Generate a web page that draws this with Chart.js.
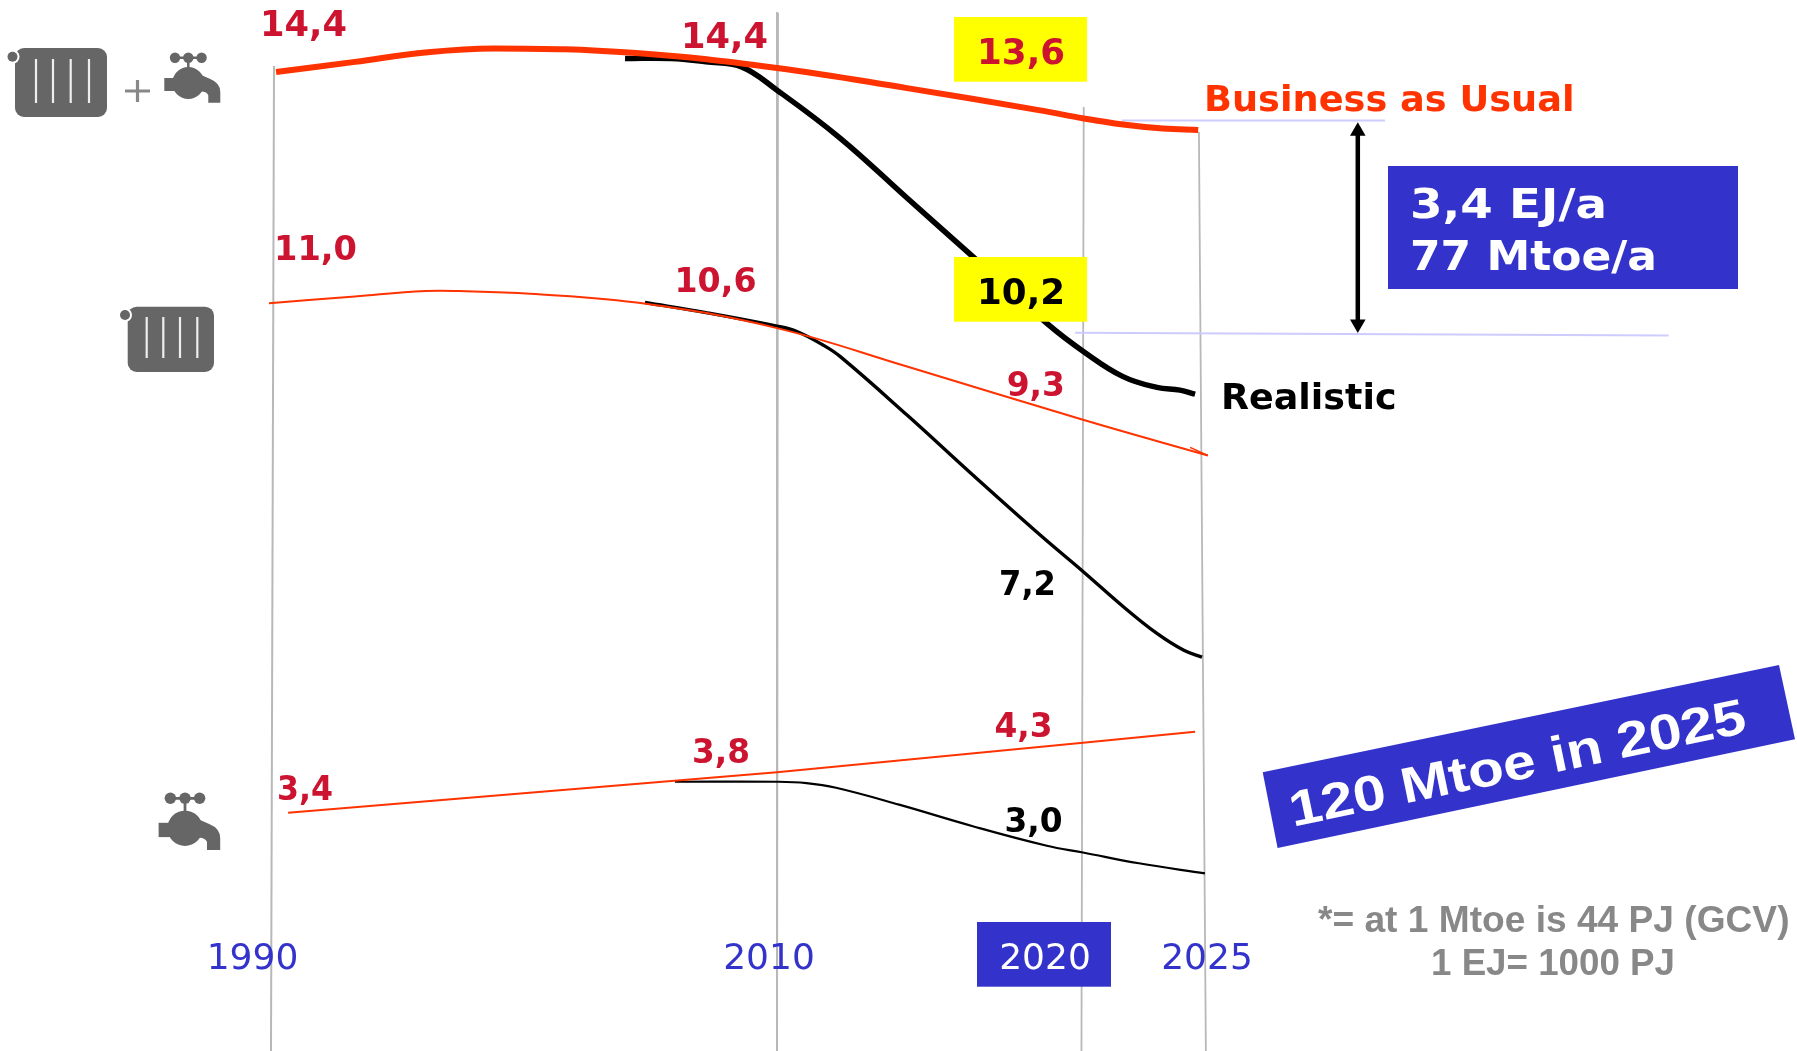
<!DOCTYPE html>
<html>
<head>
<meta charset="utf-8">
<title>Energy demand for heating and hot water</title>
<style>
html,body{margin:0;padding:0;background:#fff;width:1797px;height:1051px;overflow:hidden}
canvas{display:block}
</style>
<script src="https://cdn.jsdelivr.net/npm/chart.js@4/dist/chart.umd.min.js"></script>
</head>
<body>
<canvas id="c" width="1797" height="1051"></canvas>
<script>
// ---------- data (EJ/a) ----------
const yearTicks = [1990, 2010, 2020, 2025];

const bauYears = [1990.12,1993.25,1996.03,1998.8,2004.4,2010,2014.25,2018.6,2020.03,2021.67,2023.33,2024.8];
const bauValues = [14.40,14.55,14.69,14.75,14.68,14.46,14.16,13.83,13.71,13.62,13.56,13.54];

const realisticYears = [2003.97,2005.8,2007.18,2008.57,2010,2012.06,2014.25,2016.4,2018.82,2020.03,2021.67,2023.08,2024.04,2024.67];
const realisticValues = [14.60,14.60,14.55,14.48,14.13,13.42,12.53,11.66,10.67,10.25,9.88,9.72,9.68,9.62];

const heatBauYears = [1989.84,1993.25,1996.03,1997.4,2000.2,2004.8,2010,2014.25,2020,2025.2];
const heatBauValues = [10.97,11.07,11.15,11.15,11.11,10.96,10.60,10.03,9.24,8.71];

const heatRealYears = [2004.76,2007.18,2010,2010.65,2011.5,2012.06,2014.25,2016.4,2018.6,2020,2021.67,2023.08,2024.2,2024.96];
const heatRealValues = [10.98,10.83,10.63,10.55,10.35,10.18,9.31,8.42,7.53,6.99,6.47,6.07,5.82,5.72];

const waterBauYears = [1990.6,2010,2020,2024.67];
const waterBauValues = [3.41,4.01,4.45,4.61];

const waterRealYears = [2005.95,2010,2010.96,2011.93,2013.99,2016.4,2018.82,2020,2022.33,2025.08];
const waterRealValues = [3.87,3.87,3.85,3.78,3.53,3.21,2.92,2.82,2.66,2.51];

const barbYears = [2024.46,2025.2];
const barbValues = [8.83,8.71];

// reference marks
const grid1990Years = [1990.04,1989.92], grid1990Values = [14.49,-0.125];
const grid2010Years = [2010.03,2010.0],  grid2010Values = [15.28,-0.125];
const grid2020Years = [2020.03,2019.95], grid2020Values = [13.88,-0.125];
const grid2025Years = [2024.83,2025.12], grid2025Values = [13.51,-0.125];
const refBauYears = [2021.62,2032.58], refBauValues = [13.68,13.68];
const refRealYears = [2019.74,2044.4], refRealValues = [10.53,10.49];
const gapYears = [2031.45,2031.45], gapValues = [13.52,10.66];

// ---------- texts ----------
const redLabels = ["14,4","14,4","13,6","11,0","10,6","9,3","3,4","3,8","4,3"];
const blackLabels = ["10,2","7,2","3,0"];
const seriesNames = ["Business as Usual","Realistic"];
const savingLines = ["3,4 EJ/a","77 Mtoe/a"];
const totalNote = "120 Mtoe in 2025";
const footnotes = ["*= at 1 Mtoe is 44 PJ (GCV)","1 EJ= 1000 PJ"];

// ---------- drawing constants ----------
const BLUE="#3333cc", RED="#ff3300", LABEL_RED="#cc1430", GREY="#666666", GRID="#b8b8b8", REF="#ccccff", YEL="#ffff00";
const BOLD='bold 35px "DejaVu Sans"';
const ARIAL='bold 36px "Liberation Sans"';
const tickNudge = {1990:-20.5, 2010:-8, 2020:-38, 2025:4};
// fraction of the plot width reached at each year
const xKnots = [[1979.167,0],[1990,0.15192],[2010,0.43239],[2020,0.60267],[2025,0.66945],[2049.75,1]];

const zip=(xs,ys)=>xs.map((x,i)=>({x,y:ys[i]}));

// The time axis of the original is not uniform: each interval has its own length.
class IntervalYearScale extends Chart.LinearScale {
  static id='intervalYear';
  static defaults=Chart.LinearScale.defaults;
  getPixelForValue(v){
    let i=0; while(i<xKnots.length-2 && v>xKnots[i+1][0]) i++;
    const a=xKnots[i], b=xKnots[i+1];
    return this.getPixelForDecimal(a[1]+(v-a[0])/(b[0]-a[0])*(b[1]-a[1]));
  }
  getValueForPixel(p){
    const d=this.getDecimalForPixel(p);
    let i=0; while(i<xKnots.length-2 && d>xKnots[i+1][1]) i++;
    const a=xKnots[i], b=xKnots[i+1];
    return a[0]+(d-a[1])/(b[1]-a[1])*(b[0]-a[0]);
  }
  _computeLabelItems(area){
    const items=super._computeLabelItems(area);
    items.forEach((it,i)=>{ it.options.translation[0]+=tickNudge[this.ticks[i].value]||0; });
    return items;
  }
}
Chart.register(IntervalYearScale);

function fitText(ctx,text,x0,x1,base,font,color){
  ctx.save();
  ctx.font=font; ctx.fillStyle=color; ctx.textAlign='left'; ctx.textBaseline='alphabetic';
  const w=ctx.measureText(text).width;
  ctx.translate(x0,base); ctx.scale((x1-x0)/w,1);
  ctx.fillText(text,0,0);
  ctx.restore();
}
function rr(ctx,x0,y0,x1,y1,r){ctx.beginPath();ctx.roundRect(x0,y0,x1-x0,y1-y0,r);ctx.fill();}
function radiator(ctx,x0,y0,x1,y1,knobX,knobY,slats,sy0,sy1){
  ctx.fillStyle=GREY; rr(ctx,x0,y0,x1,y1,9);
  ctx.fillStyle="#fff"; ctx.beginPath();ctx.arc(knobX,knobY,7,0,7);ctx.fill();
  ctx.fillStyle=GREY; ctx.beginPath();ctx.arc(knobX,knobY,5,0,7);ctx.fill();
  ctx.strokeStyle="#eeeeee"; ctx.lineWidth=2.2;
  slats.forEach(x=>{ctx.beginPath();ctx.moveTo(x,sy0);ctx.lineTo(x,sy1);ctx.stroke();});
}
function faucet(ctx,cx,cy,s,handleY){
  ctx.save();ctx.translate(cx,cy);ctx.scale(s,s);
  ctx.fillStyle=GREY;ctx.strokeStyle=GREY;
  [-13.3,0,13.3].forEach(dx=>{ctx.beginPath();ctx.arc(dx,handleY,5.2,0,7);ctx.fill();});
  ctx.lineWidth=2.5;
  ctx.beginPath();ctx.moveTo(-13,handleY);ctx.lineTo(13,handleY);ctx.moveTo(0,handleY);ctx.lineTo(0,-12);ctx.stroke();
  ctx.beginPath();ctx.arc(0,0,16,0,7);ctx.fill();
  ctx.fillRect(-24,-5,24,13);
  ctx.beginPath();ctx.moveTo(6,-11);ctx.lineTo(22,-4);ctx.quadraticCurveTo(32,0,32,9);ctx.lineTo(32,19.7);
  ctx.lineTo(20,19.7);ctx.lineTo(20,12.5);ctx.quadraticCurveTo(19,9,14,8.5);ctx.lineTo(6,8);ctx.closePath();ctx.fill();
  ctx.restore();
}

const annotations={
  id:'annotations',
  afterDatasetsDraw(chart){
    const c=chart.ctx;
    c.save();
    // icons
    radiator(c,15,48,107,117,12.5,56.7,[36,53,70.7,89],59,103);
    c.strokeStyle="#888888";c.lineWidth=3.2;
    c.beginPath();c.moveTo(125,91);c.lineTo(150,91);c.moveTo(137.5,80);c.lineTo(137.5,102);c.stroke();
    faucet(c,188.3,83,1,-25.3);
    radiator(c,127.7,306.7,214,372,125,315,[146.7,163.3,180,197.3],317,358);
    faucet(c,185,828.3,1.1,-27.3);
    // boxes
    c.fillStyle=YEL;
    c.fillRect(954,17,133,64.7);
    c.fillRect(954,257,133,64.7);
    c.fillStyle=BLUE;
    c.fillRect(1388,166,350,123);
    c.fillRect(977,922,134,64.7);
    c.beginPath();c.moveTo(1262.7,772.3);c.lineTo(1779,665);c.lineTo(1795,739.3);c.lineTo(1277.6,848);c.closePath();c.fill();
    // value labels
    const big='bold 36px "DejaVu Sans"', mid='bold 33px "DejaVu Sans"';
    fitText(c,redLabels[0],260,347,36,big,LABEL_RED);
    fitText(c,redLabels[1],681,768,48,big,LABEL_RED);
    fitText(c,redLabels[2],977,1065,63.5,big,LABEL_RED);
    fitText(c,redLabels[3],274,357,260,mid,LABEL_RED);
    fitText(c,redLabels[4],674.5,756.5,291.7,mid,LABEL_RED);
    fitText(c,redLabels[5],1006.7,1065,396,mid,LABEL_RED);
    fitText(c,redLabels[6],277,333,800,mid,LABEL_RED);
    fitText(c,redLabels[7],692,750,763,mid,LABEL_RED);
    fitText(c,redLabels[8],994.4,1052.5,737,mid,LABEL_RED);
    fitText(c,blackLabels[0],977,1065,304,big,"#000");
    fitText(c,blackLabels[1],999,1056,595,mid,"#000");
    fitText(c,blackLabels[2],1004.4,1062.5,831.7,mid,"#000");
    // series names
    fitText(c,seriesNames[0],1204,1574.5,110.7,BOLD,RED);
    fitText(c,seriesNames[1],1221,1396.5,409,BOLD,"#000");
    // saving box
    fitText(c,savingLines[0],1410,1607,217.7,'bold 41px "DejaVu Sans"',"#fff");
    fitText(c,savingLines[1],1410,1657,270,'bold 41px "DejaVu Sans"',"#fff");
    // rotated total
    c.save();
    c.translate(1293,826.7);c.rotate(-11.74*Math.PI/180);
    fitText(c,totalNote,0,465,0,'bold 50px "Liberation Sans"',"#fff");
    c.restore();
    // footnotes
    fitText(c,footnotes[0],1318,1789.5,931.7,ARIAL,"#888888");
    fitText(c,footnotes[1],1431,1675,975,ARIAL,"#888888");
    c.restore();
  }
};

const line=(label,xs,ys,color,width,extra={})=>Object.assign({
  label,data:zip(xs,ys),borderColor:color,borderWidth:width,pointRadius:0,fill:false,clip:false,
  tension:0.4,borderCapStyle:'butt',borderJoinStyle:'round'
},extra);
const straight={tension:0};

new Chart(document.getElementById('c'),{
  type:'line',
  data:{datasets:[
    line('Business as Usual: heating + hot water',bauYears,bauValues,RED,6),
    line('Realistic: heating + hot water',realisticYears,realisticValues,"#000",5.5),
    line('Business as Usual: heating',heatBauYears,heatBauValues,RED,2),
    line('Business as Usual: heating, arrow',barbYears,barbValues,RED,1.5,straight),
    line('Realistic: heating',heatRealYears,heatRealValues,"#000",3.4),
    line('Business as Usual: hot water',waterBauYears,waterBauValues,RED,2,straight),
    line('Realistic: hot water',waterRealYears,waterRealValues,"#000",2.2),
    line('Gap',gapYears,gapValues,"#000",4.5,{tension:0,pointRadius:9,pointStyle:'triangle',pointRotation:[0,180],pointBackgroundColor:"#000",pointBorderWidth:0}),
    line('Reference BAU',refBauYears,refBauValues,REF,2,straight),
    line('Reference Realistic',refRealYears,refRealValues,REF,2,straight),
    line('1990',grid1990Years,grid1990Values,GRID,2,straight),
    line('2010',grid2010Years,grid2010Values,GRID,2,straight),
    line('2020',grid2020Years,grid2020Values,GRID,1.8,straight),
    line('2025',grid2025Years,grid2025Values,GRID,1.8,straight)
  ]},
  options:{
    responsive:false,animation:false,events:[],
    layout:{padding:0,autoPadding:false},
    plugins:{legend:{display:false},tooltip:{enabled:false},title:{display:false}},
    scales:{
      x:{
        type:'intervalYear',min:1979.167,max:2049.75,
        position:{y:1.67},
        grid:{display:false},border:{display:false},
        afterBuildTicks:a=>{a.ticks=yearTicks.map(value=>({value}));},
        ticks:{
          z:1,padding:0,autoSkip:false,maxRotation:0,minRotation:0,
          font:{family:'"DejaVu Sans"',size:36},
          color:ctx=>ctx.tick&&ctx.tick.value===2020?"#fff":BLUE,
          callback:v=>String(v)
        }
      },
      y:{type:'linear',min:-0.125,max:15.468,display:false}
    }
  },
  plugins:[annotations]
});
</script>
</body>
</html>
